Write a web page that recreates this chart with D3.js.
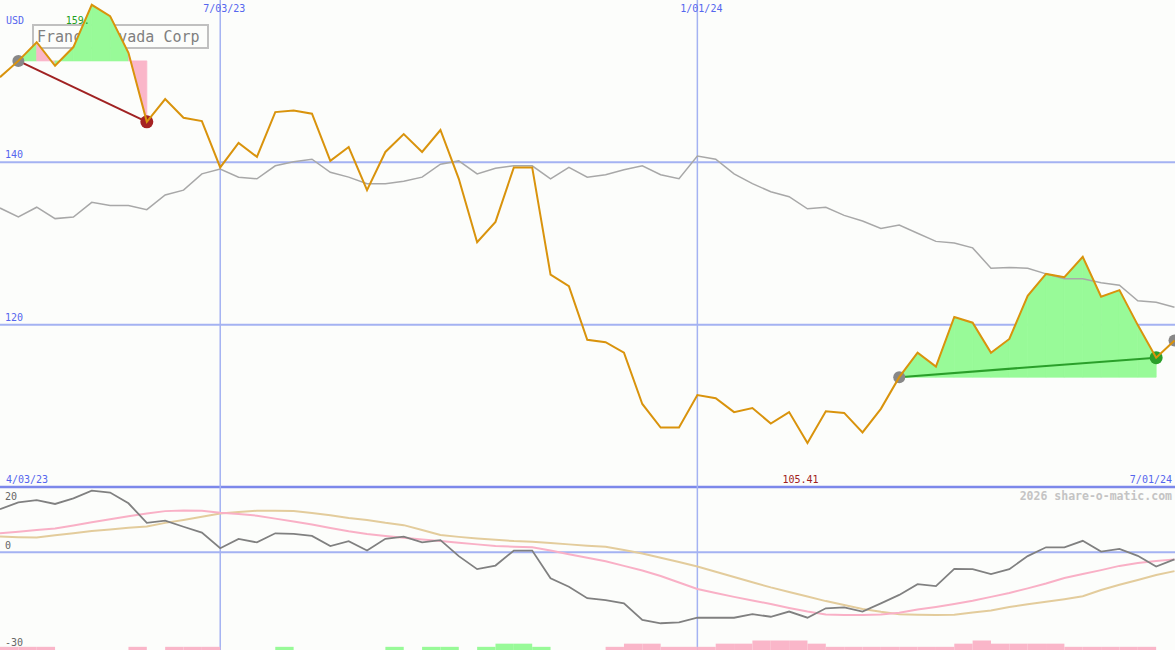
<!DOCTYPE html>
<html><head><meta charset="utf-8">
<script src="https://cdn.jsdelivr.net/npm/d3@7"></script>
<style>html,body{margin:0;padding:0;background:#fcfdfb;} svg{display:block;}</style>
</head><body><svg id="c" width="1175" height="650"></svg>
<script>
// ---------- data ----------
const startDate = new Date(2023, 3, 10);           // first weekly point
const weekCount = 65;
const price = [150.4,152.4,154.7,151.8,154.1,159.3,157.9,153.4,144.9,147.7,
  145.4,145.0,139.3,142.3,140.6,146.1,146.3,145.9,140.1,141.8,
  136.5,141.2,143.4,141.2,143.9,137.9,130.1,132.6,139.3,139.3,
  126.1,124.7,118.1,117.8,116.5,110.2,107.3,107.3,111.3,110.9,
  109.2,109.7,107.8,109.2,105.41,109.3,109.1,106.7,109.6,113.5,
  116.5,114.8,120.9,120.2,116.5,118.2,123.5,126.2,125.8,128.3,
  123.4,124.2,119.9,115.9,118.0];
const benchmark = [134.3,133.2,134.4,133.0,133.2,135.0,134.6,134.6,134.1,135.9,
  136.5,138.5,139.1,138.1,137.9,139.5,140.0,140.3,138.7,138.1,
  137.3,137.3,137.6,138.1,139.7,140.1,138.5,139.2,139.5,139.5,
  137.9,139.3,138.1,138.4,139.0,139.5,138.4,137.9,140.7,140.3,
  138.5,137.3,136.3,135.7,134.2,134.4,133.4,132.7,131.8,132.2,
  131.2,130.2,130.0,129.4,126.9,127.0,126.9,126.2,125.6,125.6,
  125.1,124.8,122.9,122.7,122.1];
const oscLine = [13.2,15.3,16.0,14.8,16.5,18.9,18.3,15.0,9.0,9.7,
  7.8,6.0,1.2,4.1,3.0,5.8,5.6,5.0,1.9,3.4,
  0.5,4.1,4.8,3.0,3.7,-1.2,-5.2,-4.1,0.5,0.5,
  -8.0,-10.6,-14.1,-14.7,-15.7,-20.8,-21.8,-21.5,-20.1,-20.1,
  -20.1,-19.0,-19.8,-18.2,-20.1,-17.2,-16.9,-18.2,-15.7,-13.1,
  -9.8,-10.4,-5.1,-5.2,-6.7,-5.2,-1.2,1.5,1.5,3.5,
  0.2,1.0,-1.1,-4.4,-2.2];
const oscSignal = [5.8,6.3,6.8,7.3,8.2,9.2,10.1,11.0,11.9,12.6,
  12.8,12.7,12.1,11.7,11.2,10.3,9.4,8.5,7.4,6.4,
  5.6,5.0,4.4,3.9,3.4,2.9,2.4,1.9,1.7,1.5,
  0.5,-0.6,-1.7,-2.8,-4.2,-5.6,-7.3,-9.3,-11.3,-12.5,
  -13.7,-14.8,-15.9,-17.1,-18.2,-19.1,-19.3,-19.3,-19.1,-18.6,
  -17.6,-16.8,-15.9,-14.9,-13.7,-12.5,-11.1,-9.6,-7.9,-6.7,
  -5.5,-4.2,-3.3,-2.7,-2.2];
const oscSlow = [4.8,4.6,4.5,5.2,5.8,6.5,7.0,7.5,7.9,9.0,
  9.9,10.9,11.9,12.3,12.7,12.7,12.6,12.0,11.3,10.5,
  9.9,9.0,8.3,6.8,5.3,4.7,4.2,3.8,3.4,3.2,
  2.8,2.4,2.0,1.7,0.7,-0.4,-1.7,-3.0,-4.4,-6.0,
  -7.6,-9.2,-10.8,-12.2,-13.6,-15.0,-16.2,-17.4,-18.3,-19.0,
  -19.2,-19.3,-19.2,-18.5,-17.9,-16.8,-16.0,-15.2,-14.4,-13.5,
  -11.6,-10.0,-8.5,-7.0,-5.8];
// signal bars per weekly interval (+ green, - pink)
const barLevels = [-1,-1,-1,0,0,0,0,-1,0,-1,-1,-1,0,0,0,1,0,0,0,0,0,1,0,1,1,0,1,2,2,1,0,0,0,
  -1,-2,-2,-1,-1,-1,-2,-2,-3,-3,-3,-2,-1,-1,-1,-1,-1,-1,-1,-2,-3,-2,-2,-2,-2,-1,-1,-1,-1,-1,0];
const tradeStart = [1, 49];
const tradeEnd = [8, 63];
const openTrade = [64];
const priceTicks = [140, 120];
const oscTickLabels = ["20", "0", "-30"];
const gridDates = [new Date(2023, 6, 3), new Date(2024, 0, 1)];
const gridLabels = ["7/03/23", "1/01/24"];
const periodLabels = ["4/03/23", "7/01/24"];
const title = "France Nevada Corp";
const currency = "USD";
const maxLabel = "159.";
const minLabel = "105.41";
const credit = "2026 share-o-matic.com";

// ---------- setup ----------
const W = 1175, H = 650;
const svg = d3.select("#c");
const FONT = "'DejaVu Sans Mono', monospace";
const dates = d3.range(weekCount).map(i => d3.timeDay.offset(startDate, 7 * i));
const x = d3.scaleTime().domain([dates[0], dates[weekCount - 1]]).range([0, 1174.5]);
const yP = d3.scaleLinear().domain([120, 140]).range([324.3, 161.7]);
const yO = d3.scaleLinear().domain([-30, 20]).range([650, 487]);
const barH = d3.scaleLinear().domain([0, 3]).range([0, 9.5]);

const BLUE_GRID = "#a4b2f2", BLUE_TXT = "#5566ee";
const PINK = "#fab6c9", GREEN = "#98fa98";

svg.append("rect").attr("width", W).attr("height", H).attr("fill", "#fcfdfb");

// horizontal price grid via axis
const gP = svg.append("g").call(d3.axisRight(yP).tickValues(priceTicks).tickSize(W).tickFormat(d3.format("d")));
gP.select(".domain").remove();
gP.selectAll("line").attr("stroke", BLUE_GRID).attr("stroke-width", 2);
gP.selectAll("text").attr("x", 5).attr("dy", -4).attr("text-anchor", "start")
  .attr("fill", BLUE_TXT).style("font-family", FONT).style("font-size", "10px");

// oscillator zero line + panel separator
svg.append("line").attr("x1", 0).attr("x2", W).attr("y1", yO(0)).attr("y2", yO(0))
  .attr("stroke", BLUE_GRID).attr("stroke-width", 2);
svg.append("line").attr("x1", 0).attr("x2", W).attr("y1", yO(20)).attr("y2", yO(20))
  .attr("stroke", "#7c88ea").attr("stroke-width", 2.5);

// vertical date grid
gridDates.forEach((d, i) => {
  svg.append("line").attr("x1", x(d)).attr("x2", x(d)).attr("y1", 0).attr("y2", H)
    .attr("stroke", BLUE_GRID).attr("stroke-width", 1.5);
  svg.append("text").attr("x", x(d) + 4).attr("y", 12).attr("text-anchor", "middle")
    .attr("fill", BLUE_TXT).style("font-family", FONT).style("font-size", "10px").text(gridLabels[i]);
});
svg.append("text").attr("x", 6).attr("y", 483).attr("fill", BLUE_TXT)
  .style("font-family", FONT).style("font-size", "10px").text(periodLabels[0]);
svg.append("text").attr("x", 1172).attr("y", 483).attr("text-anchor", "end").attr("fill", BLUE_TXT)
  .style("font-family", FONT).style("font-size", "10px").text(periodLabels[1]);
svg.append("text").attr("x", 6).attr("y", 24).attr("fill", BLUE_TXT)
  .style("font-family", FONT).style("font-size", "10px").text(currency);

// oscillator labels
[[20, 500], [0, 549], [-30, 646]].forEach(([v, yy], i) => {
  svg.append("text").attr("x", 5).attr("y", yy).attr("fill", "#666")
    .style("font-family", FONT).style("font-size", "10px").text(oscTickLabels[i]);
});
svg.append("text").attr("x", 1172).attr("y", 500).attr("text-anchor", "end").attr("fill", "#c4c4c4")
  .style("font-family", FONT).style("font-size", "11.5px").style("font-weight", "bold").text(credit);

// title box
svg.append("rect").attr("x", 33).attr("y", 25).attr("width", 175).attr("height", 23)
  .attr("fill", "none").attr("stroke", "#c0c0c0").attr("stroke-width", 2);
svg.append("text").attr("x", 37).attr("y", 42).attr("fill", "#808080")
  .style("font-family", FONT).style("font-size", "15px").text(title);

// trade fills (per weekly segment)
tradeStart.forEach((s, t) => {
  const e = tradeEnd[t];
  const base = price[s];
  for (let i = s; i < e; i++) {
    const pts = [[x(dates[i]), yP(base)], [x(dates[i]), yP(price[i])],
                 [x(dates[i + 1]), yP(price[i + 1])], [x(dates[i + 1]), yP(base)]];
    const col = price[i + 1] >= base ? GREEN : PINK;
    svg.append("path").attr("d", d3.line()(pts) + "Z")
      .attr("fill", col).attr("stroke", col).attr("stroke-width", 0.8).attr("stroke-linejoin", "miter");
  }
});

// benchmark line
svg.append("path").datum(d3.range(weekCount))
  .attr("d", d3.line().x(i => x(dates[i])).y(i => yP(benchmark[i])))
  .attr("fill", "none").attr("stroke", "#a8a8a8").attr("stroke-width", 1.5);

// trade lines and markers
tradeStart.forEach((s, t) => {
  const e = tradeEnd[t];
  const win = price[e] >= price[s];
  svg.append("line").attr("x1", x(dates[s])).attr("y1", yP(price[s]))
    .attr("x2", x(dates[e])).attr("y2", yP(price[e]))
    .attr("stroke", win ? "#2a9f2a" : "#a02222").attr("stroke-width", 2);
  svg.append("circle").attr("cx", x(dates[s])).attr("cy", yP(price[s])).attr("r", 6).attr("fill", "#888");
  svg.append("circle").attr("cx", x(dates[e])).attr("cy", yP(price[e])).attr("r", 6.5)
    .attr("fill", win ? "#2a9f2a" : "#a52222");
});
openTrade.forEach(s => {
  svg.append("circle").attr("cx", x(dates[s])).attr("cy", yP(price[s])).attr("r", 6).attr("fill", "#888");
});

// price line
svg.append("path").datum(d3.range(weekCount))
  .attr("d", d3.line().x(i => x(dates[i])).y(i => yP(price[i])))
  .attr("fill", "none").attr("stroke", "#d9930c").attr("stroke-width", 2);

// extreme labels
const iMax = d3.maxIndex(price), iMin = d3.minIndex(price);
svg.append("text").attr("x", x(dates[iMax]) - 2).attr("y", 24).attr("text-anchor", "end")
  .attr("fill", "#22a022").style("font-family", FONT).style("font-size", "10px").text(maxLabel);
svg.append("text").attr("x", x(dates[iMin]) - 7).attr("y", 483).attr("text-anchor", "middle")
  .attr("fill", "#a02020").style("font-family", FONT).style("font-size", "10px").text(minLabel);

// oscillator lines
const oscL = arr => d3.line().x((d, i) => x(dates[i])).y(d => yO(d))(arr);
svg.append("path").attr("d", oscL(oscSlow)).attr("fill", "none").attr("stroke", "#e3cc9c").attr("stroke-width", 2);
svg.append("path").attr("d", oscL(oscSignal)).attr("fill", "none").attr("stroke", "#f9b0c6").attr("stroke-width", 2);
svg.append("path").attr("d", oscL(oscLine)).attr("fill", "none").attr("stroke", "#808080").attr("stroke-width", 1.8);

// signal bars
svg.append("g").selectAll("rect").data(barLevels).join("rect")
  .attr("x", (d, i) => x(dates[i]))
  .attr("width", (d, i) => x(dates[i + 1]) - x(dates[i]))
  .attr("y", d => H - barH(Math.abs(d)))
  .attr("height", d => barH(Math.abs(d)))
  .attr("fill", d => d > 0 ? GREEN : PINK);
</script></body></html>
